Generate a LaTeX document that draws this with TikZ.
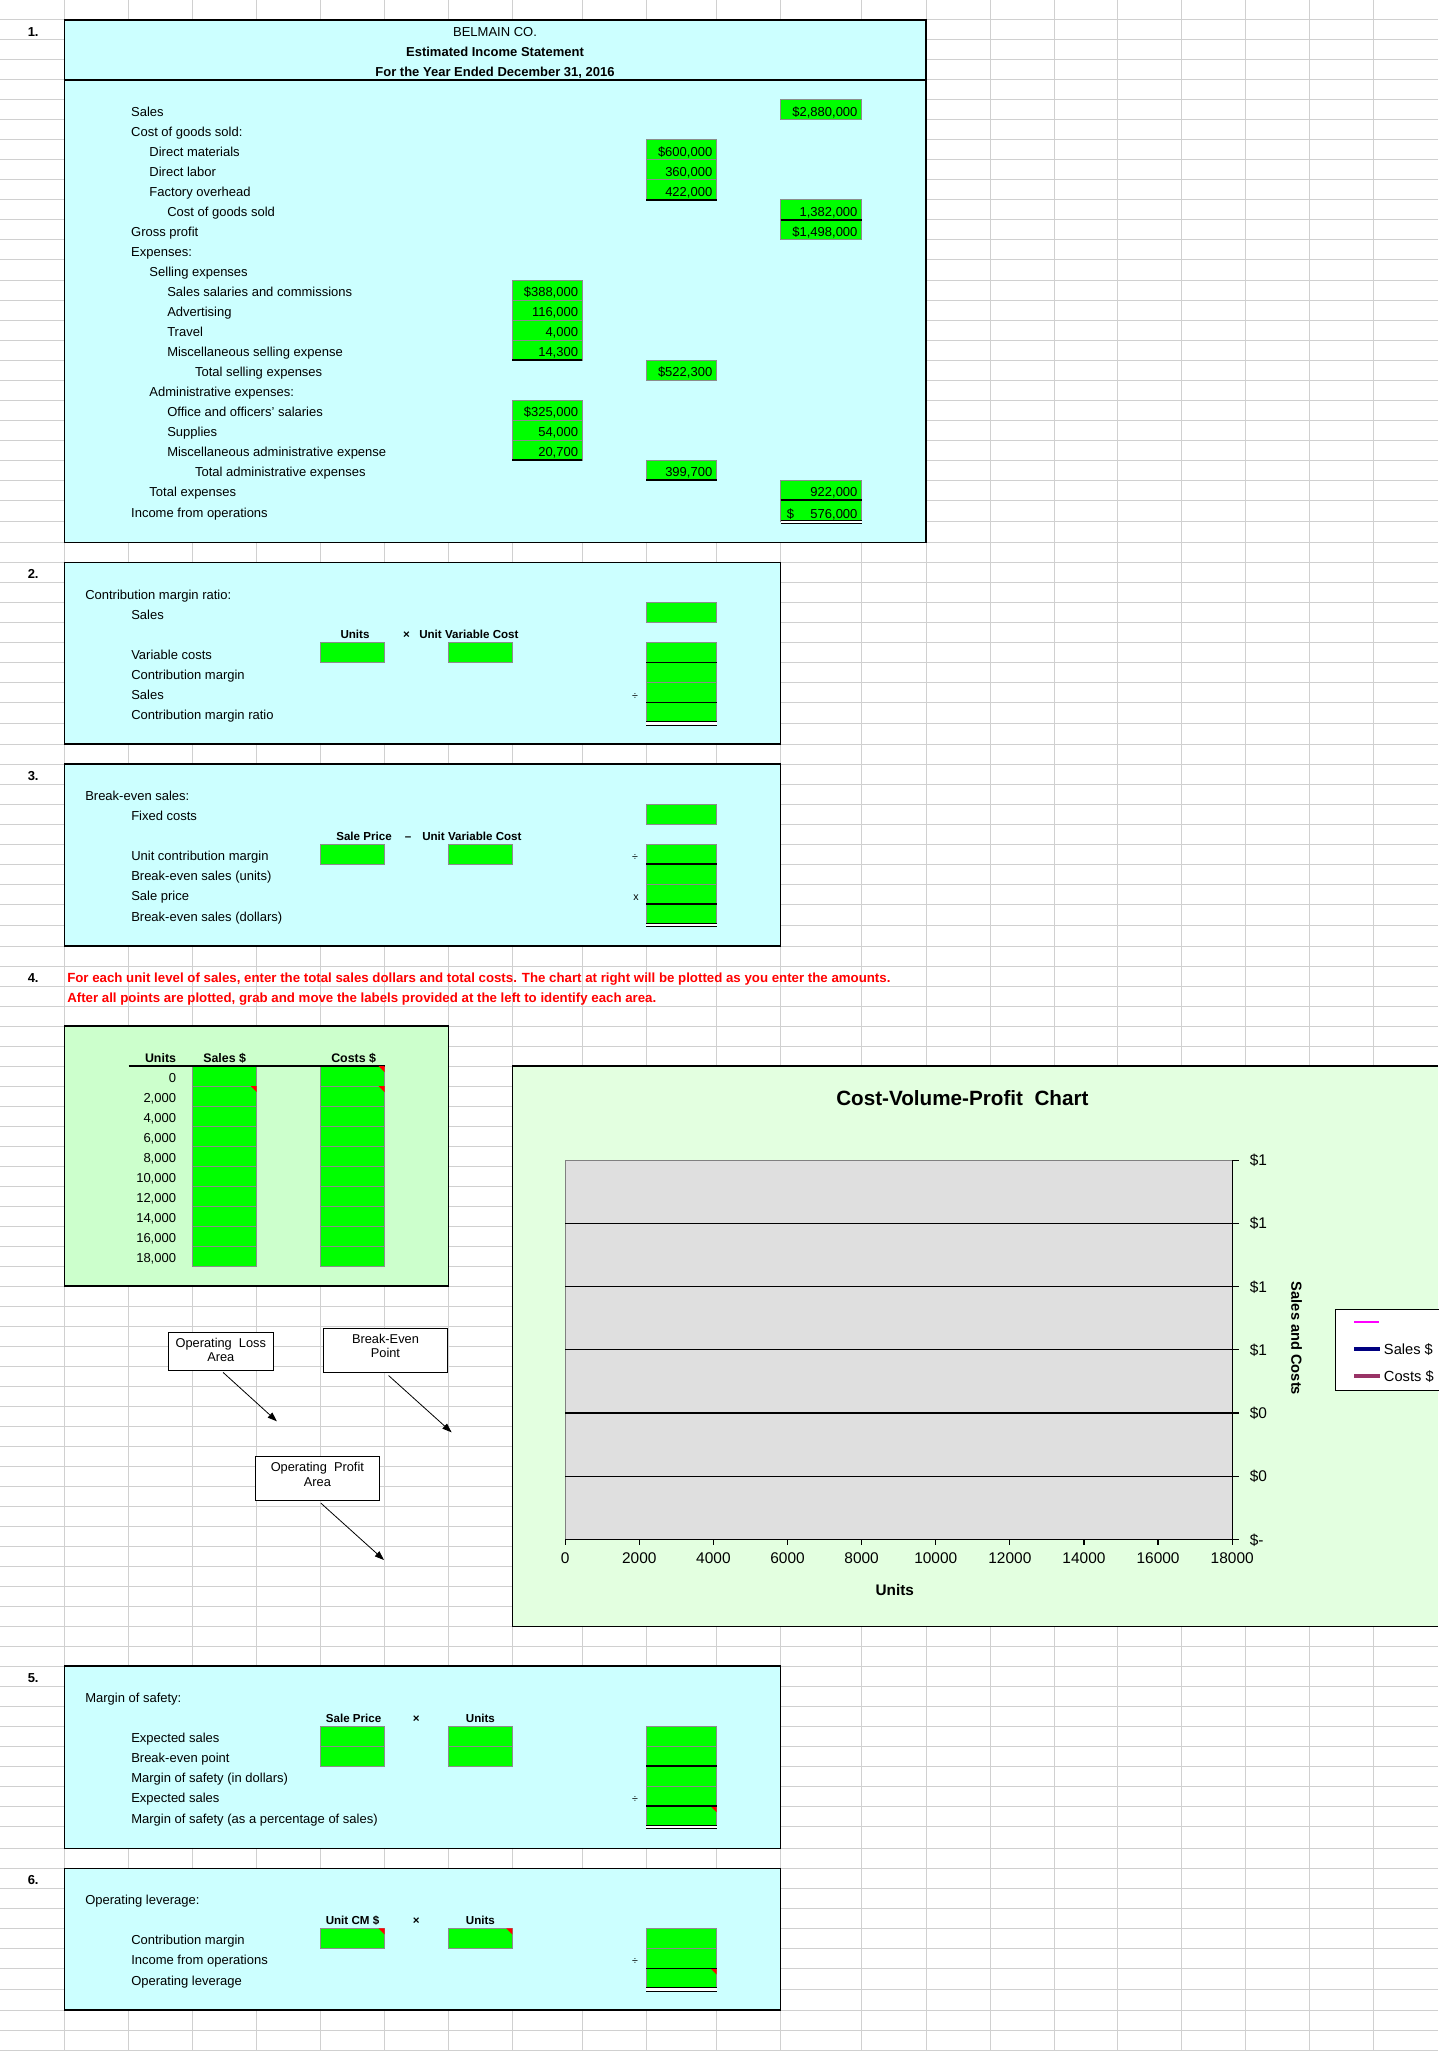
\documentclass[tikz,border=0pt]{standalone}
\usepackage{fontspec}
\setmainfont{Liberation Sans}
\usetikzlibrary{arrows.meta}
\definecolor{gridc}{HTML}{D0D0D0}
\definecolor{cyanbg}{HTML}{CCFFFF}
\definecolor{cellg}{HTML}{00FF00}
\definecolor{cellbd}{HTML}{8C8C8C}
\definecolor{tblbg}{HTML}{CCFFCC}
\definecolor{chartbg}{HTML}{E3FFE0}
\definecolor{plotbg}{HTML}{DFDFDF}
\definecolor{navyc}{HTML}{000080}
\definecolor{maroonc}{HTML}{993366}
\definecolor{magc}{HTML}{FF00FF}
\newcommand{\fr}{\fontsize{9.75pt}{11pt}\selectfont}
\newcommand{\fh}{\fontsize{8.7pt}{10pt}\selectfont\bfseries}
\newcommand{\fth}{\fontsize{9.3pt}{10pt}\selectfont\bfseries}
\newcommand{\fnum}{\fontsize{9.75pt}{11pt}\selectfont\bfseries}
\newcommand{\fred}{\fontsize{9.95pt}{11pt}\selectfont\bfseries}
\newcommand{\fch}{\fontsize{11.6pt}{13pt}\selectfont}
\newcommand{\fd}{\fontsize{9.6pt}{11pt}\selectfont}
\newcounter{nn}
\newcommand{\T}[4][]{\stepcounter{nn}\node[txt,#1] (n\arabic{nn}) at (#2,#3) {#4};}
\newcommand{\G}[4]{\draw[gcell] (#1,#2) rectangle (#3,#4);}
\newcommand{\GA}[5]{\G{#1}{#2}{#3}{#4}\T[anchor=base east]{#3-4}{#4-3.5}{#5}}
\newcommand{\BB}[3]{\draw[line width=0.9pt] (#1,#3) -- (#2,#3);}
\newcommand{\DB}[3]{\fill[white] (#1,#3-2) rectangle (#2,#3+1.5); \draw[line width=0.75pt] (#1,#3-2) -- (#2,#3-2) (#1,#3+1.5) -- (#2,#3+1.5);}
\newcommand{\RT}[2]{\fill[red] (#1-6,#2) -- (#1,#2) -- (#1,#2+6) -- cycle;}
\def\cFa{320.5}\def\cFb{384.5}
\def\cSa{448.4}\def\cSb{512.3}
\def\cEa{512.3}\def\cEb{582.3}
\def\cTa{646.4}\def\cTb{716.5}
\def\cWa{780.6}\def\cWb{861.7}
\begin{document}
\begin{tikzpicture}[x=0.75pt,y=-0.75pt,
  txt/.style={anchor=base west,inner sep=0pt,font=\fr},
  hdr/.style={anchor=base,inner sep=0pt,font=\fh},
  gcell/.style={fill=cellg,draw=cellbd,line width=0.75pt},
  sect/.style={fill=cyanbg,draw=black,line width=1.1pt},
  lblbox/.style={draw=black,fill=white,line width=0.75pt,inner sep=0pt},
  ltxt/.style={inner sep=0pt,align=center,font=\fd},
  arr/.style={-{Triangle[length=7pt,width=5pt]},line width=0.6pt},
  chtick/.style={anchor=base,inner sep=0pt,font=\fch},
]
% background and bounding box
\fill[white] (0,0) rectangle (1438,2051);
\useasboundingbox (0,0) rectangle (1438,2051);
% sheet grid
\begin{scope}[draw=gridc,line width=0.75pt]
\foreach \x in {64.3,128.6,192.6,256.6,320.5,384.5,448.4,512.3,582.3,646.4,716.5,780.6,861.7,926,990.2,1054.3,1117.8,1181.4,1245.6,1309.7,1373.2}
  \draw (\x,0) -- (\x,2051);
\foreach \y in {20,40,...,500}
  \draw (0,\y) -- (1438,\y);
\foreach \y in {521.5,542.3,562.7,582.7,602.7,622.7,642.7,662.7,682.7,702.7,723.3,744,764,784,804,824,844,864,884,904,925,946}
  \draw (0,\y) -- (1438,\y);
\foreach \y in {966,986,...,1806}
  \draw (0,\y) -- (1438,\y);
\foreach \y in {1826.7,1848.3,1868.3,1888.3,1908.3,1928.3,1948.3,1968.3,1989.3,2010,2030,2050}
  \draw (0,\y) -- (1438,\y);
\end{scope}

% ================= Section 1 =================
\draw[sect] (64.3,20) rectangle (926,542.3);
\draw[line width=1.1pt] (64.3,80) -- (926,80);
\T[font=\fnum]{27.5}{36.5}{1.}
\T[anchor=base]{495}{36.5}{BELMAIN CO.}
\T[anchor=base,font=\fnum]{495}{56.5}{Estimated Income Statement}
\T[anchor=base,font=\fnum]{495}{76.5}{For the Year Ended December 31, 2016}
\T{130.9}{116.5}{Sales}
\T{130.9}{136.5}{Cost of goods sold:}
\T{149.2}{156.5}{Direct materials}
\T{149.2}{176.5}{Direct labor}
\T{149.2}{196.5}{Factory overhead}
\T{167}{216.5}{Cost of goods sold}
\T{130.9}{236.5}{Gross profit}
\T{130.9}{256.5}{Expenses:}
\T{149.2}{276.5}{Selling expenses}
\T{167}{296.5}{Sales salaries and commissions}
\T{167}{316.5}{Advertising}
\T{167}{336.5}{Travel}
\T{167}{356.5}{Miscellaneous selling expense}
\T{194.8}{376.5}{Total selling expenses}
\T{149.2}{396.5}{Administrative expenses:}
\T{167}{416.5}{Office and officers' salaries}
\T{167}{436.5}{Supplies}
\T{167}{456.5}{Miscellaneous administrative expense}
\T{194.8}{476.5}{Total administrative expenses}
\T{149.2}{496.5}{Total expenses}
\T{130.9}{517.5}{Income from operations}
% amounts
\GA{\cWa}{100}{\cWb}{120}{\$2,880,000}
\GA{\cTa}{140}{\cTb}{160}{\$600,000}
\GA{\cTa}{160}{\cTb}{180}{360,000}
\GA{\cTa}{180}{\cTb}{200}{422,000}
\BB{\cTa}{\cTb}{200}
\GA{\cWa}{200}{\cWb}{220}{1,382,000}
\GA{\cWa}{220}{\cWb}{240}{\$1,498,000}
\BB{\cWa}{\cWb}{220}
\GA{\cEa}{280}{\cEb}{300}{\$388,000}
\GA{\cEa}{300}{\cEb}{320}{116,000}
\GA{\cEa}{320}{\cEb}{340}{4,000}
\GA{\cEa}{340}{\cEb}{360}{14,300}
\BB{\cEa}{\cEb}{360}
\GA{\cTa}{360}{\cTb}{380}{\$522,300}
\GA{\cEa}{400}{\cEb}{420}{\$325,000}
\GA{\cEa}{420}{\cEb}{440}{54,000}
\GA{\cEa}{440}{\cEb}{460}{20,700}
\BB{\cEa}{\cEb}{460}
\GA{\cTa}{460}{\cTb}{480}{399,700}
\BB{\cTa}{\cTb}{480}
\GA{\cWa}{480}{\cWb}{500}{922,000}
\GA{\cWa}{500}{\cWb}{521.5}{576,000}
\T{786.5}{518}{\$}
\BB{\cWa}{\cWb}{500}
\DB{\cWa}{\cWb}{522}

% ================= Section 2 =================
\draw[sect] (64.3,562.7) rectangle (780.6,744);
\T[font=\fnum]{27.5}{578.7}{2.}
\T{85}{599}{Contribution margin ratio:}
\T{131}{619}{Sales}
\G{\cTa}{602.7}{\cTb}{622.7}
\T[hdr]{355}{638.7}{Units}
\T[hdr]{406.6}{638.7}{×}
\T[hdr,anchor=base west]{419}{638.7}{Unit Variable Cost}
\T{131}{659}{Variable costs}
\G{\cFa}{642.7}{\cFb}{662.7}
\G{\cSa}{642.7}{\cSb}{662.7}
\G{\cTa}{642.7}{\cTb}{662.7}
\T{131}{679}{Contribution margin}
\G{\cTa}{662.7}{\cTb}{682.7}
\T{131}{699}{Sales}
\T[anchor=base,font=\fontsize{8pt}{9pt}\selectfont]{635}{699}{÷}
\G{\cTa}{682.7}{\cTb}{702.7}
\T{131}{719.5}{Contribution margin ratio}
\G{\cTa}{702.7}{\cTb}{723.3}
\BB{\cTa}{\cTb}{662.7}
\BB{\cTa}{\cTb}{702.7}
\DB{\cTa}{\cTb}{723.5}

% ================= Section 3 =================
\draw[sect] (64.3,764) rectangle (780.6,946);
\T[font=\fnum]{27.5}{780}{3.}
\T{85}{800.5}{Break-even sales:}
\T{131}{820.5}{Fixed costs}
\G{\cTa}{804}{\cTb}{824}
\T[hdr]{364}{840}{Sale Price}
\T[hdr]{408}{840}{–}
\T[hdr,anchor=base west]{422}{840}{Unit Variable Cost}
\T{131}{860.5}{Unit contribution margin}
\G{\cFa}{844}{\cFb}{864}
\G{\cSa}{844}{\cSb}{864}
\T[anchor=base,font=\fontsize{8pt}{9pt}\selectfont]{635}{860.5}{÷}
\G{\cTa}{844}{\cTb}{864}
\T{131}{880.5}{Break-even sales (units)}
\G{\cTa}{864}{\cTb}{884}
\T{131}{900.5}{Sale price}
\T[anchor=base,font=\fontsize{8pt}{9pt}\selectfont]{636}{900.5}{x}
\G{\cTa}{884}{\cTb}{904}
\T{131}{921}{Break-even sales (dollars)}
\G{\cTa}{904}{\cTb}{925}
\BB{\cTa}{\cTb}{864}
\BB{\cTa}{\cTb}{904}
\DB{\cTa}{\cTb}{925}

% ================= Section 4 =================
\T[font=\fnum]{27.5}{982.5}{4.}
\T[font=\fred,text=red]{67}{982.5}{For each unit level of sales, enter the total sales dollars and total costs. The chart at right will be plotted as you enter the amounts.}
\T[font=\fred,text=red]{67}{1002.5}{After all points are plotted, grab and move the labels provided at the left to identify each area.}
% data table
\draw[fill=tblbg,draw=black,line width=1.1pt] (64.3,1026) rectangle (448.4,1286);
\T[font=\fth,anchor=base east]{176.3}{1062.5}{Units}
\T[font=\fth]{203}{1062.5}{Sales \$}
\T[font=\fth]{331}{1062.5}{Costs \$}
\foreach \k/\u in {0/0,1/{2,000},2/{4,000},3/{6,000},4/{8,000},5/{10,000},6/{12,000},7/{14,000},8/{16,000},9/{18,000}}{
  \pgfmathsetmacro\ya{1066+20*\k}
  \pgfmathsetmacro\yb{1086+20*\k}
  \G{192.6}{\ya}{256.6}{\yb}
  \G{\cFa}{\ya}{\cFb}{\yb}
  \node[txt,anchor=base east] (u\k) at (176.3,\yb-3.5) {\u};
}
\draw[line width=1pt] (128.6,1066) -- (384.5,1066);
\RT{\cFb}{1066}
\RT{256.6}{1086}
\RT{\cFb}{1086}
% movable labels
\node[lblbox,minimum width=78.5pt,minimum height=28.5pt] (lossbox) at (220.8,1351.3) {};
\node[ltxt] (losstxt) at (220.8,1349.8) {Operating\ \ Loss\\Area};
\node[lblbox,minimum width=92.8pt,minimum height=33.3pt] (bebox) at (385.45,1350.5) {};
\node[ltxt] (betxt) at (385.45,1346) {Break-Even\\Point};
\node[lblbox,minimum width=93.5pt,minimum height=33pt] (profbox) at (317.35,1478.3) {};
\node[ltxt] (proftxt) at (317.35,1474.2) {Operating\ \ Profit\\Area};
\coordinate (lossend) at (276.9,1421.3);
\coordinate (beend) at (451.6,1432.3);
\coordinate (profend) at (384,1560);
\draw[arr] ([shift={(2.4,1.7)}]lossbox.south) -- (lossend);
\draw[arr] ([shift={(3.1,2.3)}]bebox.south) -- (beend);
\draw[arr] ([shift={(3.6,2.4)}]profbox.south) -- (profend);

% chart
\fill[chartbg] (512.3,1066) rectangle (1438,1626.7);
\draw[line width=1.1pt] (1438,1066) -- (512.3,1066) -- (512.3,1626.7) -- (1438,1626.7);
\node[inner sep=0pt,font=\fontsize{15.5pt}{17pt}\selectfont\bfseries] (ctitle) at (962.4,1097.8) {Cost-Volume-Profit\ \ Chart};
\fill[plotbg] (565.2,1160.2) rectangle (1232.2,1539.5);
\draw[gray,line width=0.75pt] (565.2,1539.5) -- (565.2,1160.2) -- (1232.2,1160.2);
\foreach \k in {1,...,5}
  \draw[line width=0.9pt] (565.2,1160.2+63.22*\k) -- (1239.4,1160.2+63.22*\k);
\draw[line width=0.9pt] (1232.2,1160.2) -- (1232.2,1539.5);
\draw[line width=0.9pt] (565.2,1539.5) -- (1239.4,1539.5);
\draw[line width=0.9pt] (1232.2,1160.2) -- (1239.4,1160.2);
\foreach \k/\v in {0/0,1/2000,2/4000,3/6000,4/8000,5/10000,6/12000,7/14000,8/16000,9/18000}{
  \draw[line width=0.9pt] (565.2+74.11*\k,1539.5) -- (565.2+74.11*\k,1545);
  \node[chtick] (xl\k) at (565.2+74.11*\k,1563.5) {\v};
}
\foreach \k/\lab in {0/1,1/1,2/1,3/1,4/0,5/0,6/-}
  \node[txt,font=\fch] (yl\k) at (1249.5,1160.2+63.22*\k+5.5) {\$\lab};
\node[inner sep=0pt,font=\fontsize{11.5pt}{13pt}\selectfont\bfseries] (xtitle) at (894.8,1590.4) {Units};
\node[inner sep=0pt,rotate=-90,font=\fontsize{11pt}{13pt}\selectfont\bfseries] (ytitle) at (1296.6,1338.5) {Sales and Costs};
% legend
\draw[fill=white,line width=0.75pt] (1445,1309.3) -- (1335.3,1309.3) -- (1335.3,1390) -- (1445,1390);
\draw[magc,line width=0.8pt] (1354,1322) -- (1379.3,1322);
\draw[navyc,line width=2.3pt] (1354,1349) -- (1380,1349);
\draw[maroonc,line width=2.3pt] (1354,1376) -- (1380,1376);
\node[txt,font=\fontsize{11pt}{13pt}\selectfont] (lgs) at (1383.7,1354) {Sales \$};
\node[txt,font=\fontsize{11pt}{13pt}\selectfont] (lgc) at (1383.7,1381) {Costs \$};

% ================= Section 5 =================
\draw[sect] (64.3,1666) rectangle (780.6,1848.3);
\T[font=\fnum]{27.5}{1682.5}{5.}
\T{85}{1702.5}{Margin of safety:}
\T[hdr]{353.6}{1722}{Sale Price}
\T[hdr]{416.3}{1722}{×}
\T[hdr]{480.4}{1722}{Units}
\T{131}{1742.5}{Expected sales}
\G{\cFa}{1726}{\cFb}{1746}
\G{\cSa}{1726}{\cSb}{1746}
\G{\cTa}{1726}{\cTb}{1746}
\T{131}{1762.5}{Break-even point}
\G{\cFa}{1746}{\cFb}{1766}
\G{\cSa}{1746}{\cSb}{1766}
\G{\cTa}{1746}{\cTb}{1766}
\T{131}{1782.5}{Margin of safety (in dollars)}
\G{\cTa}{1766}{\cTb}{1786}
\T{131}{1802.5}{Expected sales}
\T[anchor=base,font=\fontsize{8pt}{9pt}\selectfont]{635}{1802.5}{÷}
\G{\cTa}{1786}{\cTb}{1806}
\T{131}{1823}{Margin of safety (as a percentage of sales)}
\G{\cTa}{1806}{\cTb}{1826.7}
\RT{\cTb}{1806}
\BB{\cTa}{\cTb}{1766}
\BB{\cTa}{\cTb}{1806}
\DB{\cTa}{\cTb}{1827}

% ================= Section 6 =================
\draw[sect] (64.3,1868.3) rectangle (780.6,2010);
\T[font=\fnum]{27.5}{1884.8}{6.}
\T{85}{1904.8}{Operating leverage:}
\T[hdr]{352.5}{1924.3}{Unit CM \$}
\T[hdr]{416.3}{1924.3}{×}
\T[hdr]{480.4}{1924.3}{Units}
\T{131}{1944.8}{Contribution margin}
\G{\cFa}{1928.3}{\cFb}{1948.3}
\G{\cSa}{1928.3}{\cSb}{1948.3}
\G{\cTa}{1928.3}{\cTb}{1948.3}
\RT{\cFb}{1928.3}
\RT{\cSb}{1928.3}
\T{131}{1964.8}{Income from operations}
\T[anchor=base,font=\fontsize{8pt}{9pt}\selectfont]{635}{1964.8}{÷}
\G{\cTa}{1948.3}{\cTb}{1968.3}
\T{131}{1985.5}{Operating leverage}
\G{\cTa}{1968.3}{\cTb}{1989.3}
\RT{\cTb}{1968.3}
\BB{\cTa}{\cTb}{1968.3}
\DB{\cTa}{\cTb}{1989.5}
\end{tikzpicture}
\end{document}
